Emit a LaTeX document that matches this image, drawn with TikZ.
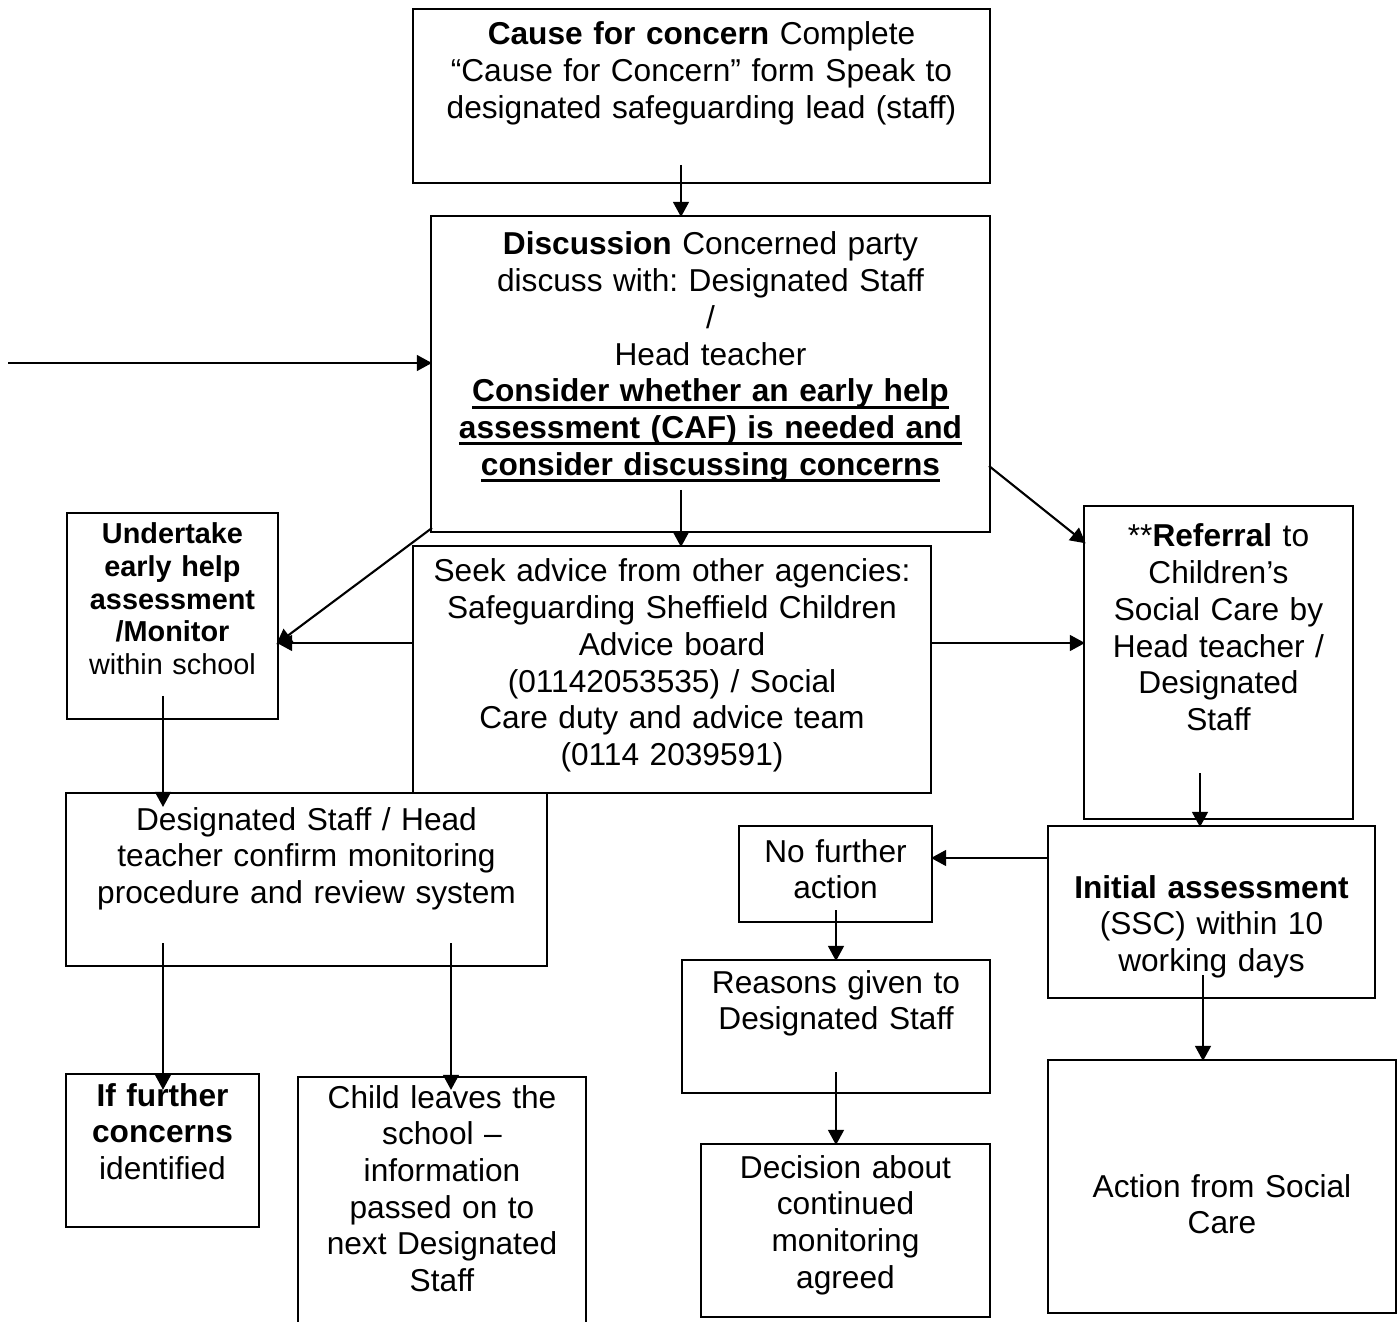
\documentclass[tikz,border=0pt]{standalone}
\usepackage{fontspec}
\setmainfont{Liberation Sans}
\usetikzlibrary{arrows.meta}
\newcommand{\ulbf}[1]{\leavevmode\setbox0=\hbox{\bfseries #1}\rlap{\rule[-1.9pt]{\wd0}{0.85pt}}\box0}
\begin{document}
\frenchspacing
\begin{tikzpicture}[x=0.01cm,y=-0.01cm,
    box/.style={draw,line width=0.6pt,inner sep=0pt},
    txt/.style={anchor=base,align=center,inner sep=0pt,font=\fontsize{9}{10.44}\selectfont},
    arr/.style={line width=0.6pt,-{Triangle[length=4.3pt,width=4.5pt]},shorten >=-0.6pt}]
    \useasboundingbox (0,0) rectangle (1400,1322);
    \clip (0,0) rectangle (1400,1322);
    \node[box,minimum width=5.77cm,minimum height=1.74cm] (cause) at (701.5,96) {};
    \node[box,minimum width=5.59cm,minimum height=3.16cm] (discuss) at (710.5,374) {};
    \node[box,minimum width=2.11cm,minimum height=2.06cm] (undertake) at (172.5,616) {};
    \node[box,minimum width=5.18cm,minimum height=2.47cm] (advice) at (672,669.5) {};
    \node[box,minimum width=2.69cm,minimum height=3.13cm] (referral) at (1218.5,662.5) {};
    \node[box,minimum width=4.81cm,minimum height=1.73cm] (confirm) at (306.5,879.5) {};
    \node[box,minimum width=1.93cm,minimum height=0.96cm] (nfa) at (835.5,874) {};
    \node[box,minimum width=3.27cm,minimum height=1.72cm] (initial) at (1211.5,912) {};
    \node[box,minimum width=3.08cm,minimum height=1.33cm] (reasons) at (836,1026.5) {};
    \node[box,minimum width=1.93cm,minimum height=1.53cm] (further) at (162.5,1150.5) {};
    \node[box,minimum width=2.88cm,minimum height=2.63cm] (leaves) at (442,1208.5) {};
    \node[box,minimum width=2.89cm,minimum height=1.73cm] (decision) at (845.5,1230.5) {};
    \node[box,minimum width=3.48cm,minimum height=2.53cm] (action) at (1222,1186.5) {};

    \node[txt,text width=5.77cm] (causetxt) at (701.5,45) {\textbf{Cause for concern} Complete\\“Cause for Concern” form Speak to\\designated safeguarding lead (staff)};
    \node[txt,text width=5.59cm] (discusstxt) at (710.5,255) {\textbf{Discussion} Concerned party\\discuss with: Designated Staff\\/\\Head teacher\\\ulbf{Consider whether an early help}\\\ulbf{assessment (CAF) is needed and}\\\ulbf{consider discussing concerns}};
    \node[txt,text width=2.11cm,font=\fontsize{8.2}{9.25}\selectfont] (undertaketxt) at (172.5,544) {\textbf{Undertake}\\\textbf{early help}\\\textbf{assessment}\\\textbf{/Monitor}\\within school};
    \node[txt,text width=5.18cm] (advicetxt) at (672,582) {Seek advice from other agencies:\\Safeguarding Sheffield Children\\Advice board\\(01142053535) / Social\\Care duty and advice team\\(0114 2039591)};
    \node[txt,text width=2.69cm] (referraltxt) at (1218.5,547) {**\textbf{Referral} to\\Children’s\\Social Care by\\Head teacher /\\Designated\\Staff};
    \node[txt,text width=4.81cm] (confirmtxt) at (306.5,830) {Designated Staff / Head\\teacher confirm monitoring\\procedure and review system};
    \node[txt,text width=1.93cm] (nfatxt) at (835.5,862) {No further\\action};
    \node[txt,text width=3.27cm] (initialtxt) at (1211.5,898) {\textbf{Initial assessment}\\(SSC) within 10\\working days};
    \node[txt,text width=3.08cm] (reasonstxt) at (836,993) {Reasons given to\\Designated Staff};
    \node[txt,text width=1.93cm] (furthertxt) at (162.5,1106) {\textbf{If further}\\\textbf{concerns}\\identified};
    \node[txt,text width=2.88cm] (leavestxt) at (442,1108) {Child leaves the\\school –\\information\\passed on to\\next Designated\\Staff};
    \node[txt,text width=2.89cm] (decisiontxt) at (845.5,1178) {Decision about\\continued\\monitoring\\agreed};
    \node[txt,text width=3.48cm] (actiontxt) at (1222,1197) {Action from Social\\Care};

    \coordinate (src) at (8,363);
    \coordinate (c1) at (681,165);
    \coordinate (c2) at (681,490);
    \coordinate (dl) at (432,528);
    \coordinate (ul) at (278,643);
    \coordinate (dr) at (989,466);
    \coordinate (rr) at (1084,542);
    \coordinate (c3) at (1200,773);
    \coordinate (c4) at (1000,858);
    \coordinate (c5) at (836,910);
    \coordinate (c6) at (836,1072);
    \coordinate (c7) at (1203,975);
    \coordinate (c8) at (163,696);
    \coordinate (c9) at (163,943);
    \coordinate (c10) at (451,943);
    \draw[arr] (src) -- (src -| discuss.west);
    \draw[arr] (c1) -- (c1 |- discuss.north);
    \draw[arr] (c2) -- (c2 |- advice.north);
    \draw[arr] (dl) -- (ul);
    \draw[arr] (advice.west |- ul) -- (undertake.east |- ul);
    \draw[arr] (dr) -- (rr);
    \draw[arr] (advice.east |- ul) -- (referral.west |- ul);
    \draw[arr] (c3) -- (c3 |- initial.north);
    \draw[arr] (initial.west |- c4) -- (nfa.east |- c4);
    \draw[arr] (c5) -- (c5 |- reasons.north);
    \draw[arr] (c6) -- (c6 |- decision.north);
    \draw[arr] (c7) -- (c7 |- action.north);
    \draw[arr,shorten >=-4.3pt] (c8) -- (c8 |- confirm.north);
    \draw[arr,shorten >=-4.8pt] (c9) -- (c9 |- further.north);
    \draw[arr,shorten >=-4pt] (c10) -- (c10 |- leaves.north);
\end{tikzpicture}
\end{document}
